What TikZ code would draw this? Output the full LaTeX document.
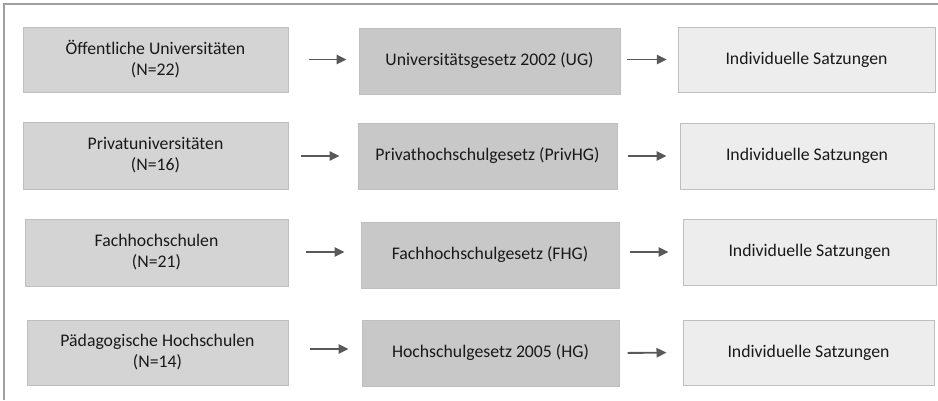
\documentclass[tikz,border=0pt]{standalone}
\usepackage{fontspec}
\setmainfont{Carlito}
\usepackage{xcolor}
\usepackage{tikz}
\usetikzlibrary{positioning, arrows.meta}

\definecolor{typfill}{HTML}{D4D4D4}
\definecolor{gesetzfill}{HTML}{C8C8C8}
\definecolor{satzfill}{HTML}{EDEDED}
\definecolor{rand}{HTML}{BFBFBF}
\definecolor{pfeilgrau}{HTML}{595959}

\begin{document}
\begin{tikzpicture}[x=0.75pt, y=-0.75pt,
	box/.style={draw=rand, line width=0.75pt, rectangle, align=center, inner sep=0pt,
		text=black!90, font=\fontsize{13.3}{15.8}\selectfont},
	typ/.style={box, fill=typfill},
	gesetz/.style={box, fill=gesetzfill},
	satzung/.style={box, fill=satzfill},
	pfeil/.style={-{Triangle[length=7.5pt, width=7pt]}, draw=pfeilgrau, line width=1.4pt}]
				\useasboundingbox (0,0) rectangle (938,400);
				% Rahmen
				\draw[gray!75, line width=1.1pt] (4,400) -- (4,4) -- (938,4);
				
				\node[typ, minimum width=198.75pt, minimum height=48.75pt] (oeff) at (155.5,59.5) {Öffentliche Universitäten\\(N=22)};
				\node[gesetz, minimum width=195.75pt, minimum height=49.5pt] (ug) at (489.5,61) {Universitätsgesetz 2002 (UG)};
				\node[satzung, minimum width=192.75pt, minimum height=48.75pt] (satz1) at (806.5,59.5) {Individuelle Satzungen};
				
				\node[typ, minimum width=198.75pt, minimum height=50.25pt] (priv) at (155.5,155.5) {Privatuniversitäten\\(N=16)};
				\node[gesetz, minimum width=194.25pt, minimum height=49.5pt] (privhg) at (487.5,156) {Privathochschulgesetz (PrivHG)};
				\node[satzung, minimum width=190.5pt, minimum height=49.5pt] (satz2) at (807,156) {Individuelle Satzungen};
				
				\node[typ, minimum width=197.25pt, minimum height=50.25pt] (fh) at (156.5,252.5) {Fachhochschulen\\(N=21)};
				\node[gesetz, minimum width=193.5pt, minimum height=49.5pt] (fhg) at (490,255) {Fachhochschulgesetz (FHG)};
				\node[satzung, minimum width=189.75pt, minimum height=49.5pt] (satz3) at (809.5,252) {Individuelle Satzungen};
				
				\node[typ, minimum width=195.75pt, minimum height=48.75pt] (ph) at (157.5,352.5) {Pädagogische Hochschulen\\(N=14)};
				\node[gesetz, minimum width=192.75pt, minimum height=49.5pt] (hg) at (490.5,353) {Hochschulgesetz 2005 (HG)};
				\node[satzung, minimum width=188.25pt, minimum height=48.75pt] (satz4) at (808.5,352.5) {Individuelle Satzungen};
				
				\draw[pfeil, shorten <=15pt, shorten >=9pt] (oeff.east) -- (ug.west |- oeff.east);
				\draw[pfeil, shorten <=5pt, shorten >=8pt] (ug.east |- satz1.west) -- (satz1.west);
				\draw[pfeil, shorten <=9pt, shorten >=13.5pt] (priv.east |- privhg.west) -- (privhg.west);
				\draw[pfeil, shorten <=7.5pt, shorten >=9.75pt] (privhg.east) -- (satz2.west);
				\draw[pfeil, shorten <=12.75pt, shorten >=12pt] (fh.east |- satz3.west) -- (fhg.west |- satz3.west);
				\draw[pfeil, shorten <=7.5pt, shorten >=10.5pt] (fhg.east |- satz3.west) -- (satz3.west);
				\draw[pfeil, shorten <=15.75pt, shorten >=9.75pt] (ph.east |- 0,349) -- (hg.west |- 0,349);
				\draw[pfeil, shorten <=6pt, shorten >=12pt] (hg.east) -- (satz4.west);
			\end{tikzpicture}
\end{document}
